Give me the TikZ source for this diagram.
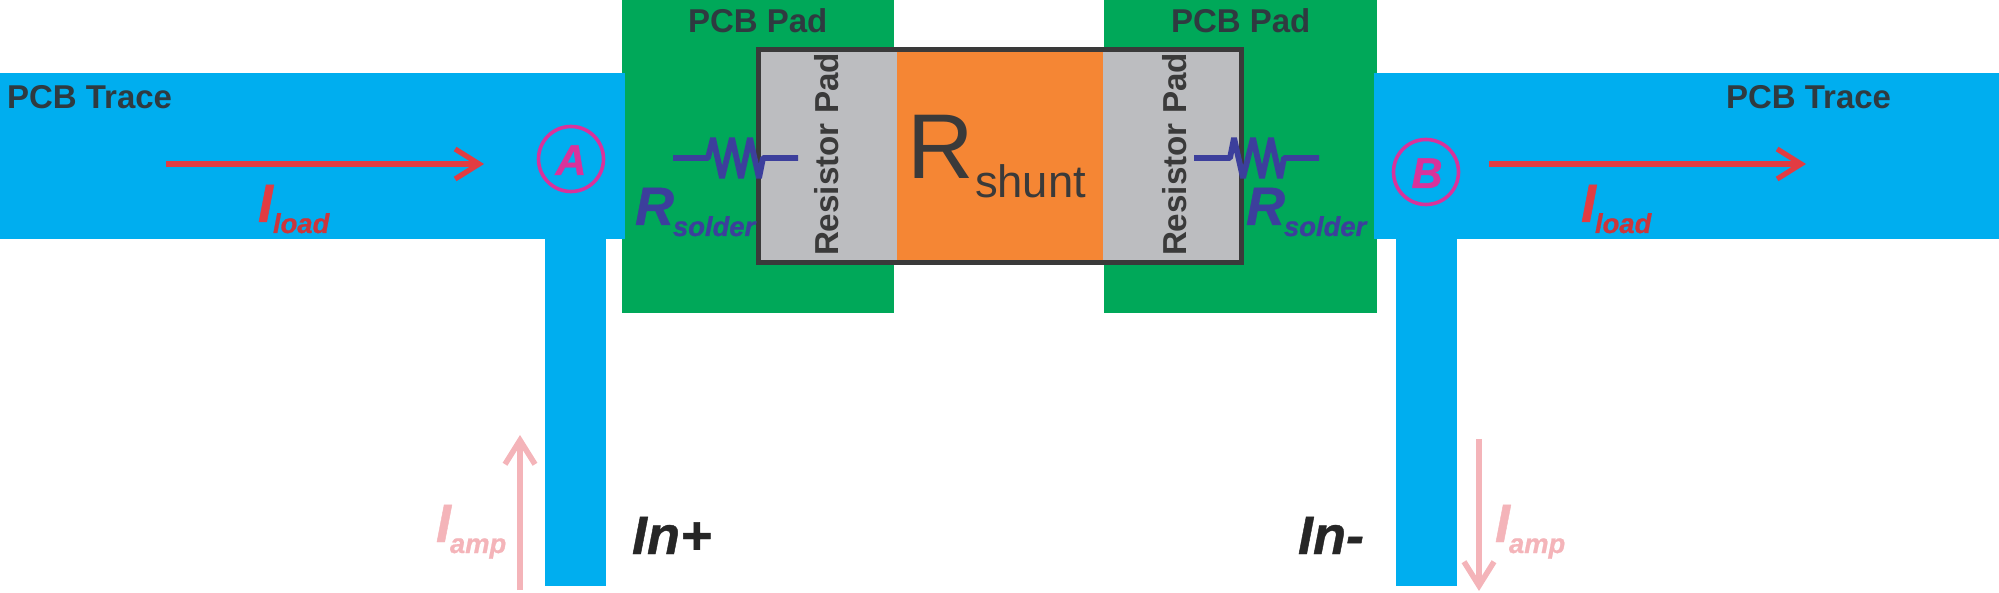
\documentclass[tikz,border=0pt]{standalone}
\usepackage{fontspec}
\setmainfont{Liberation Sans}
\newfontfamily\heavyit[BoldItalicFeatures={FakeBold=0.8}]{Liberation Sans}
\usetikzlibrary{arrows.meta}
\definecolor{tracec}{HTML}{00AEEF}
\definecolor{padc}{HTML}{00A859}
\definecolor{greyc}{HTML}{BCBDC0}
\definecolor{orangec}{HTML}{F58634}
\definecolor{darkc}{HTML}{3A3A3A}
\definecolor{labelc}{HTML}{2F3A40}
\definecolor{purplec}{HTML}{3C3F9C}
\definecolor{magc}{HTML}{D9329B}
\definecolor{redc}{HTML}{E23C42}
\definecolor{pinkc}{HTML}{F4B4B9}
\newcommand{\blockrect}[6]{\node[blockbox,#2,minimum width={(#5-#3)*0.5pt},minimum height={(#6-#4)*0.5pt}] (#1) at ({(#3+#5)/2},{(#4+#6)/2}) {};}
\tikzset{
  x=0.5pt,y=-0.5pt,
  blockbox/.style={inner sep=0pt,outer sep=0pt,rectangle},
  lbl/.style={inner sep=0pt,outer sep=0pt,anchor=base west},
  lblv/.style={inner sep=0pt,outer sep=0pt,anchor=base west,rotate=90},
  padtext/.style={lbl,text=labelc,font=\bfseries\fontsize{16.5pt}{18pt}\selectfont},
  restext/.style={lblv,text=darkc,font=\bfseries\fontsize{16.6pt}{18pt}\selectfont},
  bigI/.style={lbl,font=\heavyit\bfseries\itshape\fontsize{27pt}{30pt}\selectfont},
  smalli/.style={lbl,font=\heavyit\bfseries\itshape\fontsize{13.7pt}{15pt}\selectfont},
  inlabel/.style={lbl,text=black!85,font=\heavyit\bfseries\itshape\fontsize{27pt}{30pt}\selectfont},
  loadarrow/.style={draw=redc,line width=2.6pt,-{Straight Barb[length=12pt,width=15pt,line width=2.6pt]}},
  amparrow/.style={draw=pinkc,line width=2.8pt,-{Straight Barb[length=12pt,width=15pt,line width=2.8pt]}},
  zigzag/.style={draw=purplec,line width=2.9pt,line join=bevel},
  markc/.style={circle,draw=magc,line width=1.8pt,inner sep=0pt,minimum size=32.5pt},
  marktext/.style={inner sep=0pt,anchor=base,text=magc,font=\heavyit\bfseries\itshape\fontsize{21.5pt}{24pt}\selectfont},
}
\begin{document}
\begin{tikzpicture}
\useasboundingbox (0,0) rectangle (1999,593);
% PCB pads
\blockrect{padL}{fill=padc}{622}{0}{894}{313}
\blockrect{padR}{fill=padc}{1104}{0}{1377}{313}
% traces
\blockrect{traceL}{fill=tracec}{0}{73}{625}{239}
\blockrect{stubL}{fill=tracec}{545}{239}{606}{586}
\blockrect{traceR}{fill=tracec}{1374}{73}{1999}{239}
\blockrect{stubR}{fill=tracec}{1396}{239}{1457}{586}
% resistor
\blockrect{rpadL}{fill=greyc}{758}{49}{897}{263}
\blockrect{rbody}{fill=orangec}{897}{49}{1103}{263}
\blockrect{rpadR}{fill=greyc}{1103}{49}{1242}{263}
\blockrect{rframe}{draw=darkc,line width=2.65pt}{758.5}{49.5}{1241.5}{262.5}
% texts
\node[padtext] (tpadL) at (688,33) {PCB Pad};
\node[padtext] (tpadR) at (1171,33) {PCB Pad};
\node[padtext] (ttrL) at (7,109) {PCB Trace};
\node[padtext] (ttrR) at (1726,109) {PCB Trace};
\node[restext] (trpL) at (838,256) {Resistor Pad};
\node[restext] (trpR) at (1186,256) {Resistor Pad};
\node[lbl,text=darkc,font=\fontsize{46pt}{50pt}\selectfont] (tR) at (907,179) {R};
\node[lbl,text=darkc,font=\fontsize{22.7pt}{25pt}\selectfont] (tshunt) at (975,198) {shunt};
% solder resistors
\coordinate (zLa) at (673,158);
\coordinate (zLb) at (798,158);
\draw[zigzag] (zLa) -- (708,158) -- (713,138) -- (722,178) -- (732,138) -- (741,178) -- (750,138) -- (759,178) -- (763,158) -- (zLb);
\coordinate (zRa) at (1194,158);
\coordinate (zRb) at (1319,158);
\draw[zigzag] (zRa) -- (1230,158) -- (1234,138) -- (1243,178) -- (1253,138) -- (1262,178) -- (1271,138) -- (1280,178) -- (1284,158) -- (zRb);
\node[bigI,text=purplec] (RsL) at (635,225) {R};
\node[smalli,text=purplec] (solL) at (673,236) {solder};
\node[bigI,text=purplec] (RsR) at (1246,225) {R};
\node[smalli,text=purplec] (solR) at (1284,236) {solder};
% measurement points
\node[markc] (cA) at (571,159) {};
\node[marktext] (tA) at (571,175) {A};
\node[markc] (cB) at (1426,172) {};
\node[marktext] (tB) at (1427,188) {B};
% load current
\coordinate (laS) at (166,164);
\coordinate (laE) at (484,164);
\draw[loadarrow] (laS) -- (laE);
\coordinate (lbS) at (1489,164);
\coordinate (lbE) at (1806,164);
\draw[loadarrow] (lbS) -- (lbE);
\node[bigI,text=redc] (IlL) at (258,222) {I};
\node[smalli,text=redc!90!black] (loadL) at (273,233) {load};
\node[bigI,text=redc] (IlR) at (1581,222) {I};
\node[smalli,text=redc!90!black] (loadR) at (1595,233) {load};
% amplifier current
\coordinate (aaS) at (520,590);
\coordinate (aaE) at (520,435);
\draw[amparrow] (aaS) -- (aaE);
\coordinate (abS) at (1479,439);
\coordinate (abE) at (1479,591);
\draw[amparrow] (abS) -- (abE);
\node[bigI,text=pinkc] (IaL) at (436,542) {I};
\node[smalli,text=pinkc] (ampL) at (450,553) {amp};
\node[bigI,text=pinkc] (IaR) at (1495,542) {I};
\node[smalli,text=pinkc] (ampR) at (1509,553) {amp};
% inputs
\node[inlabel] (inp) at (632,554) {In+};
\node[inlabel] (inm) at (1298,554) {In-};
\end{tikzpicture}
\end{document}
